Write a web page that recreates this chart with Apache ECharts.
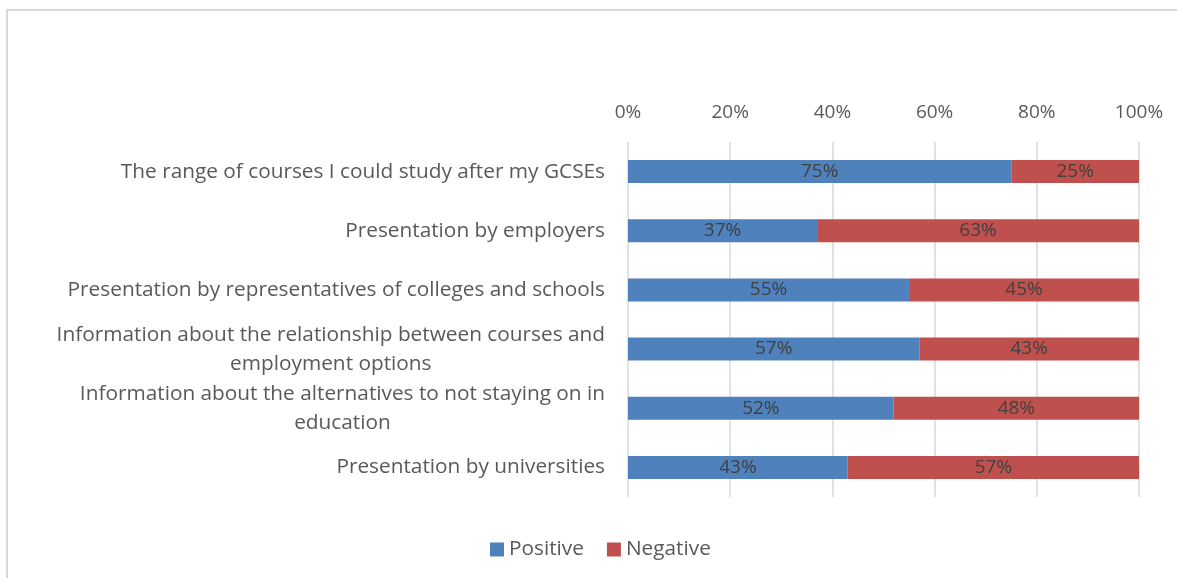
<!DOCTYPE html>
<html>
<head>
<meta charset="utf-8">
<script src="https://cdn.jsdelivr.net/npm/echarts@6/dist/echarts.min.js"></script>
<style>
  html, body { margin: 0; padding: 0; background: #fff; }
  #chart { width: 1177px; height: 578px; }
</style>
</head>
<body>
<div id="chart"></div>
<script>
// Survey topics, listed top to bottom
const categories = [
  'The range of courses I could study after my GCSEs',
  'Presentation by employers',
  'Presentation by representatives of colleges and schools',
  'Information about the relationship between courses and\nemployment options',
  'Information about the alternatives to not staying on in\neducation',
  'Presentation by universities'
];
// Share of responses (percent)
const positive = [75, 37, 55, 57, 52, 43];
const negative = [25, 63, 45, 43, 48, 57];
// Value axis ticks
const tickValues = [0, 20, 40, 60, 80, 100];

const FONT = '"Open Sans", sans-serif';
const TEXT = '#595959';
const NUM_SIZE = 19;   // tick and data labels
const CAT_SIZE = 20.8; // category and legend text

const chart = echarts.init(document.getElementById('chart'), null, { renderer: 'canvas' });

chart.setOption({
  animation: false,
  backgroundColor: '#fff',
  textStyle: { fontFamily: FONT },
  graphic: [{
    type: 'rect',
    shape: { x: 7, y: 10, width: 1200, height: 600 },
    style: { fill: 'none', stroke: '#d9d9d9', lineWidth: 2 },
    silent: true
  }],
  grid: { left: 628, right: 38, top: 142, bottom: 81, containLabel: false },
  legend: {
    bottom: 13,
    left: 485,
    itemWidth: 14,
    itemHeight: 14,
    itemGap: 23,
    icon: 'rect',
    textStyle: { fontSize: CAT_SIZE, color: TEXT, fontFamily: FONT },
    data: ['Positive', 'Negative']
  },
  xAxis: {
    type: 'value',
    position: 'top',
    min: tickValues[0],
    max: tickValues[tickValues.length - 1],
    interval: tickValues[1] - tickValues[0],
    axisLine: { show: false },
    axisTick: { show: false },
    axisLabel: {
      formatter: '{value}%',
      fontSize: NUM_SIZE,
      color: TEXT,
      margin: 20,
      fontFamily: FONT
    },
    splitLine: { show: true, lineStyle: { color: '#d9d9d9', width: 1.5 } }
  },
  yAxis: {
    type: 'category',
    inverse: true,
    data: categories,
    axisLine: { show: false },
    axisTick: { show: false },
    axisLabel: {
      margin: 23,
      align: 'right',
      formatter: function (v) {
        return v.split('\n').map(function (s) { return '{c|' + s + '}'; }).join('\n');
      },
      rich: {
        c: { align: 'center', fontSize: CAT_SIZE, color: TEXT, fontFamily: FONT, lineHeight: 29 }
      }
    }
  },
  series: [
    {
      name: 'Positive',
      type: 'bar',
      stack: 'total',
      barWidth: 23,
      data: positive,
      itemStyle: { color: '#4F81BD' },
      label: {
        show: true, position: 'inside', formatter: '{c}%',
        fontSize: NUM_SIZE, color: '#404040', fontFamily: FONT
      }
    },
    {
      name: 'Negative',
      type: 'bar',
      stack: 'total',
      barWidth: 23,
      data: negative,
      itemStyle: { color: '#C0504D' },
      label: {
        show: true, position: 'inside', formatter: '{c}%',
        fontSize: NUM_SIZE, color: '#404040', fontFamily: FONT
      }
    }
  ]
});
</script>
</body>
</html>
